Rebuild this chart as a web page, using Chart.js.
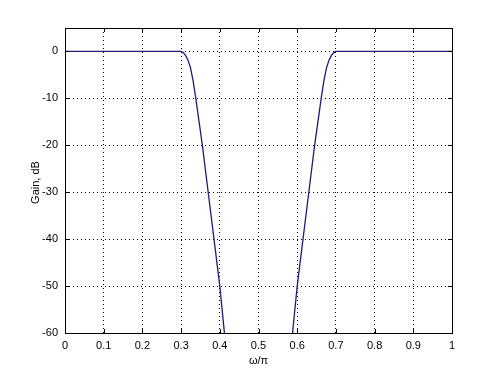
<!DOCTYPE html>
<html>
<head>
<meta charset="utf-8">
<script src="https://cdn.jsdelivr.net/npm/chart.js@4/dist/chart.umd.min.js"></script>
<style>
  html, body { margin: 0; padding: 0; background: #ffffff; }
  #wrap { width: 500px; height: 375px; }
</style>
</head>
<body>
<div id="wrap"><canvas id="chartGain"></canvas></div>
<script>
// normalized frequency (w/pi) and gain in dB
const freq = [0, 0.1, 0.2, 0.3, 0.306, 0.312, 0.318, 0.324, 0.331, 0.338, 0.355, 0.37, 0.385, 0.40, 0.412,
    0.5,
    0.588, 0.60, 0.615, 0.63, 0.645, 0.662, 0.669, 0.676, 0.682, 0.688, 0.694, 0.70, 0.8, 0.9, 1];
const gain = [0, 0, 0, 0, -0.3, -0.9, -1.9, -3.4, -6.2, -10, -20, -30, -40, -50, -60,
    null,
    -60, -50, -40, -30, -20, -10, -6.2, -3.4, -1.9, -0.9, -0.3, 0, 0, 0, 0];

const xTicks = [0, 0.1, 0.2, 0.3, 0.4, 0.5, 0.6, 0.7, 0.8, 0.9, 1];
const yTicks = [-60, -50, -40, -30, -20, -10, 0];

const points = freq.map((f, i) => ({ x: f, y: gain[i] }));

const fontTicks = { family: "'Liberation Sans', Arial, sans-serif", size: 11 };

// black box round the axes, small inner ticks + axis titles, like matlab
const boxPlugin = {
    id: "boxPlugin",
    afterDraw(chart) {
        const { ctx, chartArea: a, scales } = chart;
        ctx.save();
        ctx.strokeStyle = "#000000";
        ctx.lineWidth = 1;
        ctx.beginPath();
        xTicks.forEach(v => {
            const px = Math.round(scales.x.getPixelForValue(v)) + 0.5;
            ctx.moveTo(px, a.bottom); ctx.lineTo(px, a.bottom - 4);
            ctx.moveTo(px, a.top); ctx.lineTo(px, a.top + 4);
        });
        yTicks.forEach(v => {
            const py = Math.round(scales.y.getPixelForValue(v)) + 0.5;
            ctx.moveTo(a.left, py); ctx.lineTo(a.left + 4, py);
            ctx.moveTo(a.right, py); ctx.lineTo(a.right - 4, py);
        });
        ctx.stroke();
        ctx.strokeRect(a.left + 0.5, a.top + 0.5, a.right - a.left, a.bottom - a.top);
        ctx.fillStyle = "#000000";
        ctx.font = "11px 'Liberation Sans', Arial, sans-serif";
        ctx.textAlign = "center";
        ctx.textBaseline = "middle";
        ctx.fillText("ω/π", (a.left + a.right) / 2, 361);
        ctx.translate(36, (a.top + a.bottom) / 2 + 2);
        ctx.rotate(-Math.PI / 2);
        ctx.fillText("Gain, dB", 0, 0);
        ctx.restore();
    }
};

new Chart(document.getElementById("chartGain"), {
    type: "line",
    data: {
        datasets: [{
            label: "Gain",
            data: points,
            borderColor: "#1c1c7a",
            borderWidth: 1.3,
            pointRadius: 0,
            fill: false,
            tension: 0,
            spanGaps: false
        }]
    },
    options: {
        responsive: true,
        maintainAspectRatio: false,
        animation: false,
        layout: { padding: { left: 0, top: 28, right: 48, bottom: 0 } },
        plugins: {
            legend: { display: false },
            tooltip: { enabled: false }
        },
        scales: {
            x: {
                type: "linear",
                min: 0,
                max: 1,
                afterBuildTicks: (s) => { s.ticks = xTicks.map(v => ({ value: v })); },
                afterFit: (s) => { s.height = 42; },
                border: { display: false, dash: [1, 3] },
                grid: {
                    color: "#000000",
                    lineWidth: 1,
                    drawTicks: false
                },
                ticks: {
                    color: "#000000",
                    font: fontTicks,
                    padding: 6,
                    maxRotation: 0,
                    callback: (v) => String(v)
                }
            },
            y: {
                type: "linear",
                min: -60,
                max: 5,
                afterBuildTicks: (s) => { s.ticks = yTicks.map(v => ({ value: v })); },
                afterFit: (s) => { s.width = 65; },
                border: { display: false, dash: [1, 3] },
                grid: {
                    color: "#000000",
                    lineWidth: 1,
                    drawTicks: false
                },
                ticks: {
                    color: "#000000",
                    font: fontTicks,
                    padding: 7
                }
            }
        }
    },
    plugins: [boxPlugin]
});
</script>
</body>
</html>
